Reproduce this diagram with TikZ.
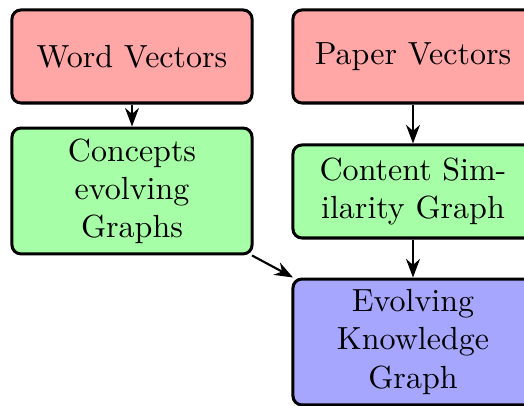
\documentclass[tikz,border=0pt]{standalone}
\usetikzlibrary{arrows.meta}
\begin{document}
\begin{tikzpicture}[x=0.3311pt,y=-0.3311pt,
  box/.style={draw=black,line width=1pt,rounded corners=3pt,minimum width=79.5pt,align=center,inner sep=2pt,font=\fontsize{10.6pt}{12.6pt}\selectfont},
  redbox/.style={box,fill=red!35,minimum height=30.8pt},
  greenbox/.style={box,fill=green!35},
  bluebox/.style={box,fill=blue!35,minimum height=41.7pt},
  conn/.style={-Stealth,line width=0.7pt}]
\useasboundingbox (0,0) rectangle (524,406);
\clip (0,0) rectangle (524,406);
\node[redbox] (wv) at (132,56.5) {Word Vectors};
\node[redbox] (pv) at (413,56.5) {Paper Vectors};
\node[greenbox,minimum height=41.7pt] (ceg) at (132,191) {Concepts\\evolving\\Graphs};
\node[greenbox,minimum height=30.8pt] (csg) at (413,191.5) {Content Sim-\\ilarity Graph};
\node[bluebox] (ekg) at (413,342) {Evolving\\Knowledge\\Graph};
\draw[conn] (wv) -- (ceg);
\draw[conn] (pv) -- (csg);
\draw[conn] (csg) -- (ekg);
\draw[conn] (ceg) -- (ekg);
\end{tikzpicture}
\end{document}
